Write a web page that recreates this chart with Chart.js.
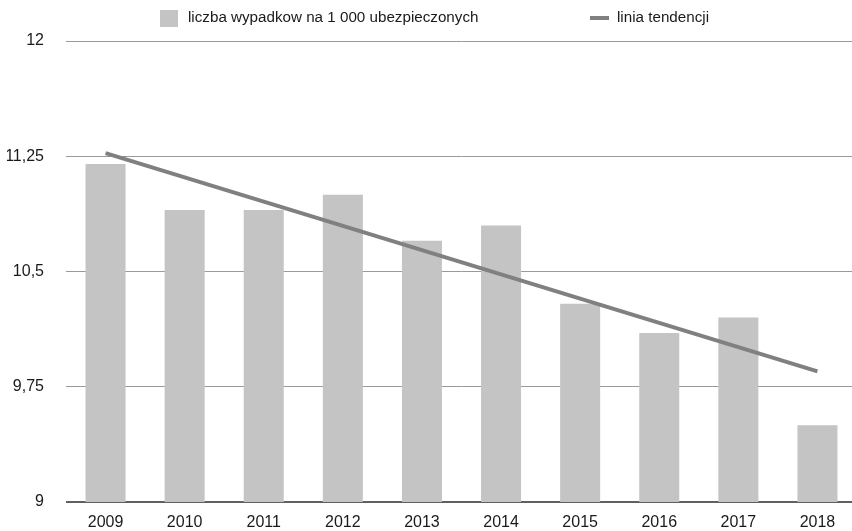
<!DOCTYPE html>
<html>
<head>
<meta charset="utf-8">
<script src="https://cdn.jsdelivr.net/npm/chart.js@4"></script>
<style>
html,body{margin:0;padding:0;background:#fff;overflow:hidden;width:852px;height:531px;}
#wrap{width:857px;height:531px;position:relative;}
canvas{display:block;}
</style>
</head>
<body>
<div id="wrap"><canvas id="c" width="857" height="531"></canvas></div>
<script>
const years = ['2009','2010','2011','2012','2013','2014','2015','2016','2017','2018'];
const accidents = [11.2, 10.9, 10.9, 11.0, 10.7, 10.8, 10.29, 10.1, 10.2, 9.5];
const trend = [11.27, null, null, null, null, null, null, null, null, 9.85];
const yTicks = [9, 9.75, 10.5, 11.25, 12];
const seriesLabels = ['liczba wypadkow na 1 000 ubezpieczonych', 'linia tendencji'];

const FONT = "'Liberation Sans Narrow', 'Liberation Sans', Arial, sans-serif";
const TEXT = '#1a1a1a';

const legendPlugin = {
  id: 'customLegend',
  afterDraw(chart) {
    const ctx = chart.ctx;
    ctx.save();
    ctx.font = '15.2px ' + FONT;
    ctx.textBaseline = 'middle';
    const y = 18;
    ctx.fillStyle = chart.data.datasets[1].backgroundColor;
    ctx.fillRect(160, 10, 18, 17);
    ctx.fillStyle = TEXT;
    ctx.fillText(chart.data.datasets[1].label, 188, y);
    ctx.strokeStyle = chart.data.datasets[0].borderColor;
    ctx.lineWidth = 4;
    ctx.beginPath();
    ctx.moveTo(590, y);
    ctx.lineTo(609, y);
    ctx.stroke();
    ctx.fillText(chart.data.datasets[0].label, 617, y);
    ctx.restore();
  }
};

new Chart(document.getElementById('c'), {
  data: {
    labels: years,
    datasets: [
      {
        type: 'line',
        label: seriesLabels[1],
        data: trend,
        borderColor: '#808080',
        borderWidth: 4,
        pointRadius: 0,
        spanGaps: true,
        fill: false,
        order: 0
      },
      {
        type: 'bar',
        label: seriesLabels[0],
        data: accidents,
        backgroundColor: '#c4c4c4',
        barPercentage: 0.506,
        categoryPercentage: 1.0,
        order: 1
      }
    ]
  },
  options: {
    responsive: false,
    animation: false,
    devicePixelRatio: 1,
    layout: { padding: { top: 41, left: 7, right: 0, bottom: 0 } },
    plugins: { legend: { display: false }, tooltip: { enabled: false } },
    scales: {
      x: {
        afterFit(axis) { axis.height = 29; axis.paddingLeft = 0; axis.paddingRight = 0; },
        grid: { display: false, drawTicks: false },
        border: { display: false },
        ticks: { color: TEXT, font: { family: FONT, size: 16 }, padding: 11, maxRotation: 0 }
      },
      y: {
        min: 9, max: 12,
        afterFit(axis) { axis.width = 59; axis.paddingTop = 0; axis.paddingBottom = 0; },
        afterBuildTicks(axis) { axis.ticks = yTicks.map(v => ({ value: v })); },
        grid: {
          drawTicks: false,
          color: ctx => ctx.tick && ctx.tick.value === 9 ? '#606060' : '#9a9a9a',
          lineWidth: ctx => ctx.tick && ctx.tick.value === 9 ? 2 : 1
        },
        border: { display: false },
        ticks: {
          color: TEXT,
          font: { family: FONT, size: 16 },
          padding: 22,
          callback: v => String(v).replace('.', ',')
        }
      }
    }
  },
  plugins: [legendPlugin]
});
</script>
</body>
</html>
